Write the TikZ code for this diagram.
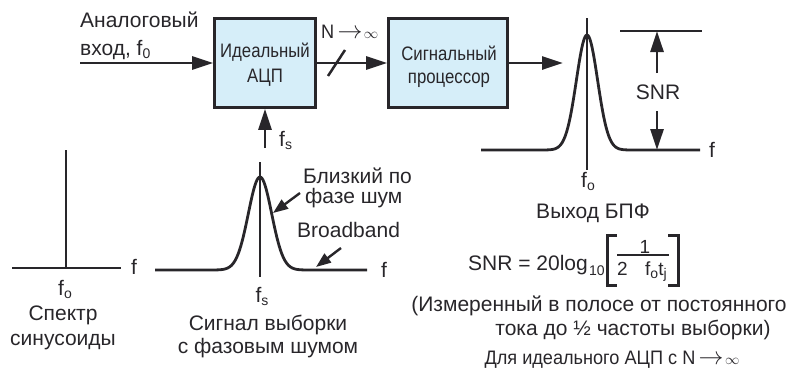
\documentclass[tikz,border=0pt]{standalone}
\usepackage{fontspec}
\setmainfont{Liberation Sans}
\newfontfamily\condfont[FakeStretch=0.86]{Liberation Sans}
\newfontfamily\semifont[FakeStretch=0.93]{Liberation Sans}
\usetikzlibrary{arrows.meta}
\definecolor{ink}{RGB}{40,38,42}
\definecolor{boxfill}{RGB}{214,238,249}
\newcommand\lowsub[1]{\raisebox{-3.5pt}{\fontsize{14}{14}\selectfont #1}}
\newcommand\arrinf[2]{{\fontsize{#1}{#1}\selectfont$\rightarrow$}\hspace{1.5pt}{\fontsize{#2}{#2}\selectfont$\infty$}}
\begin{document}
\begin{tikzpicture}[x=1pt,y=-1pt,
  every node/.style={inner sep=0pt, text=ink},
  txt/.style={font=\fontsize{21}{24}\selectfont},
  ctxt/.style={font=\condfont\fontsize{19.5}{23}\selectfont},
  stxt/.style={font=\semifont\fontsize{19.5}{23}\selectfont},
  ftxt/.style={font=\fontsize{19}{22}\selectfont},
  blk/.style={draw=ink, fill=boxfill, line width=2.8pt, minimum height=89pt},
  line/.style={draw=ink, line width=2.8pt},
  arr/.style={line, -{Triangle[length=21pt,width=13pt]}},
  sarr/.style={line, line width=2.4pt, -{Triangle[length=15pt,width=11pt]}}]
\useasboundingbox (0,0) rectangle (801,375);

% blocks
\node[blk, minimum width=101pt] (adc) at (265,63) {};
\node[blk, minimum width=119pt] (dsp) at (448,63) {};
\node[ctxt, anchor=base] (adc1) at (265,57) {Идеальный};
\node[ctxt, anchor=base] (adc2) at (265,82) {АЦП};
\node[ctxt, anchor=base] (dsp1) at (449,60) {Сигнальный};
\node[ctxt, anchor=base] (dsp2) at (449,83) {процессор};

% input
\node[txt, anchor=base west] (in1) at (80,27) {Аналоговый};
\node[txt, anchor=base west] (in2) at (80,55) {вход, f\lowsub{0}};
\coordinate (inA) at (80,63);
\draw[arr] (inA) -- (adc.west);

% adc -> dsp
\draw[arr] (adc.east) -- (dsp.west);
\coordinate (sl1) at (328,76);
\coordinate (sl2) at (345,50);
\draw[line, line width=2.5pt] (sl1) -- (sl2);
\node[stxt, anchor=base west] (nlab) at (321,38) {N\,\arrinf{24}{15}};

% dsp -> out
\coordinate (outB) at (563,63);
\draw[arr] (dsp.east) -- (outB);

% fs
\coordinate (fsA) at (265,148);
\draw[arr] (fsA) -- (adc.south);
\node[txt, anchor=base west] (fsl) at (279,146) {f\lowsub{s}};

% FFT output spectrum
\draw[line] (481,150) -- plot[domain=-50:50, samples=101, smooth] ({587+\x},{150-115*exp(-(\x/15)*(\x/15))}) -- (700,150);
\draw[line] (587,18) -- (587,170);
\node[txt] (ffl) at (712,150) {f};
\node[txt, anchor=base] (ffo) at (588,187) {f\lowsub{o}};
\node[txt, anchor=base] (fftit) at (593,218) {Выход БПФ};
\draw[line] (620,31) -- (702,31);
\node[txt] (snrl) at (658,92) {SNR};
\coordinate (snrtop) at (657,31);
\coordinate (snrbot) at (657,150);
\coordinate (snra) at (657,73);
\coordinate (snrb) at (657,111);
\draw[arr] (snra) -- (snrtop);
\draw[arr] (snrb) -- (snrbot);

% left spectrum
\draw[line] (12,268) -- (121,268);
\draw[line] (66,150) -- (66,268);
\node[txt] (lfl) at (134,267) {f};
\node[txt, anchor=base] (lfo) at (65,295) {f\lowsub{o}};
\node[txt, anchor=base] (lc1) at (63,320) {Спектр};
\node[txt, anchor=base] (lc2) at (63,345) {синусоиды};

% middle spectrum
\draw[line] (155,270) -- plot[domain=-45:45, samples=91, smooth] ({260+\x},{270-93*exp(-(\x/16.5)*(\x/16.5))}) -- (367,270);
\draw[line] (260,162) -- (260,277);
\node[txt] (mfl) at (384,270) {f};
\node[txt, anchor=base] (mfs) at (262,302) {f\lowsub{s}};
\node[txt, anchor=base] (mc1) at (268,330) {Сигнал выборки};
\node[txt, anchor=base] (mc2) at (268,353) {с фазовым шумом};
\node[txt, anchor=base west] (n1) at (303,183) {Близкий по};
\node[txt, anchor=base west] (n2) at (305,203) {фазе шум};
\node[txt, anchor=base west] (n3) at (297,237) {Broadband};
\coordinate (na1) at (300,193);
\coordinate (nt1) at (273,213);
\coordinate (na2) at (341,248);
\coordinate (nt2) at (316,267);
\draw[sarr] (na1) -- (nt1);
\draw[sarr] (na2) -- (nt2);

% formula
\node[txt, anchor=base east] (snrf) at (588,270) {SNR = 20log};
\node[font=\fontsize{14}{16}\selectfont, anchor=base west] (s10) at (589,275) {10};
\draw[line, line width=3pt] (617,235) -- (607.5,235) -- (607.5,285) -- (617,285);
\draw[line, line width=3pt] (668,235) -- (678.5,235) -- (678.5,285) -- (668,285);
\draw[draw=ink, line width=1.5pt] (617,255) -- (669,255);
\node[ftxt, anchor=base] (num) at (645,253) {1};
\node[ftxt, anchor=base west] (den1) at (617,275) {2};
\node[ftxt, anchor=base west] (den2) at (645,275) {f\lowsub{o}t\lowsub{j}};

% notes
\node[txt, anchor=base] (m1) at (599,311) {(Измеренный в полосе от постоянного};
\node[txt, anchor=base] (m2) at (633,335) {тока до ½ частоты выборки)};
\node[stxt, anchor=base] (m3) at (612,364) {Для идеального АЦП с N\,\arrinf{23}{14}};
\end{tikzpicture}
\end{document}
